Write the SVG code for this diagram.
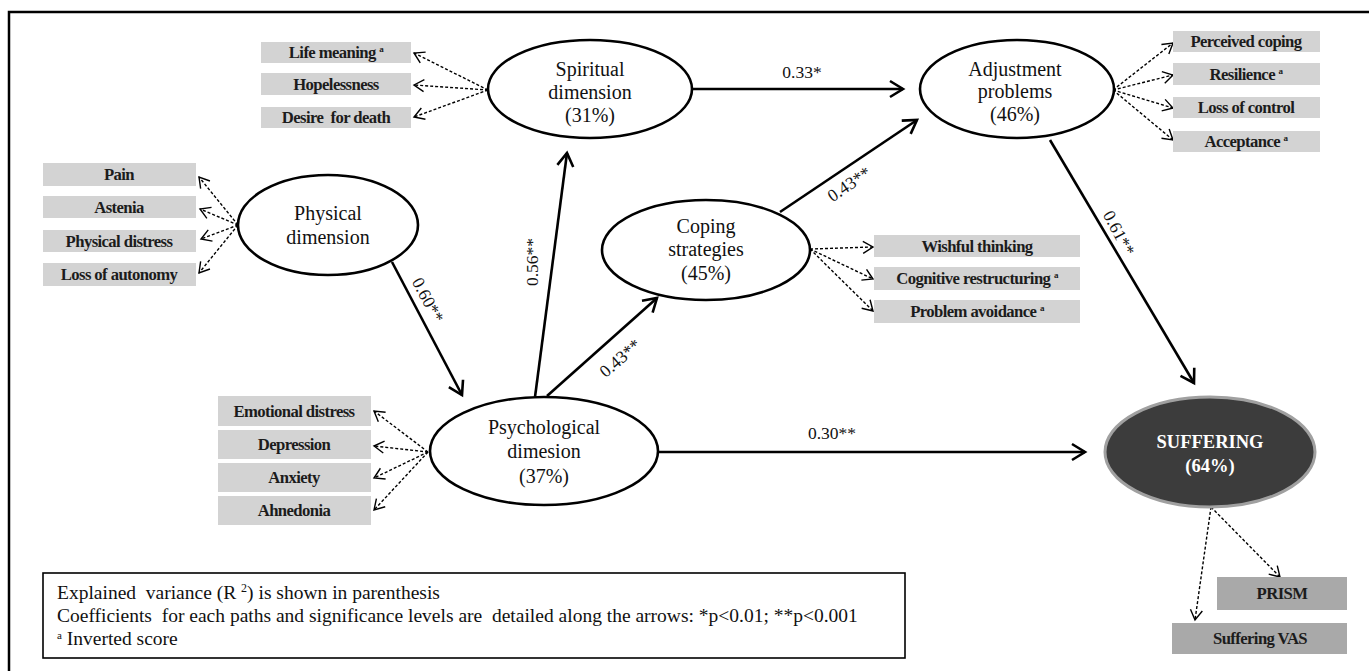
<svg xmlns="http://www.w3.org/2000/svg" width="1369" height="671" viewBox="0 0 1369 671">
<style>
.lat{fill:#fff;stroke:#000;stroke-width:2.6}
.box{fill:#d3d3d3}
.box2{fill:#a9a9a9}
.bt{font-family:"Liberation Serif",serif;font-size:16.7px;font-weight:bold;letter-spacing:-0.6px;fill:#1c1c1c;text-anchor:middle}
.lt{font-family:"Liberation Serif",serif;font-size:20px;fill:#111;text-anchor:middle}
.st{font-family:"Liberation Serif",serif;font-size:18.5px;font-weight:bold;fill:#fff;text-anchor:middle}
.el{font-family:"Liberation Serif",serif;font-size:17.5px;fill:#111;text-anchor:middle}
.leg{font-family:"Liberation Serif",serif;font-size:19.5px;fill:#111;white-space:pre}
.sol{fill:none;stroke:#000;stroke-width:2.6;marker-end:url(#ah)}
.das{fill:none;stroke:#000;stroke-width:1.4;stroke-dasharray:3 2;marker-end:url(#ahd)}
</style>
<defs>
<marker id="ah" markerUnits="userSpaceOnUse" markerWidth="20" markerHeight="20" viewBox="-16 -10 20 20" refX="0" refY="0" orient="auto">
<path d="M-13,-8 L0,0 L-13,8" fill="none" stroke="#000" stroke-width="2.6"/>
</marker>
<marker id="ahd" markerUnits="userSpaceOnUse" markerWidth="16" markerHeight="16" viewBox="-12 -8 16 16" refX="0" refY="0" orient="auto">
<path d="M-10,-6 L0,0 L-10,6" fill="none" stroke="#000" stroke-width="1.4"/>
</marker>
</defs>
<rect width="1369" height="671" fill="#fff"/>
<path d="M9,680 V12 H1380" fill="none" stroke="#000" stroke-width="2.5"/>

<g id="connectors">
<path class="sol" d="M392,262 L462,395"/>
<path class="sol" d="M535,397 L567,153"/>
<path class="sol" d="M547,396 L657,298"/>
<path class="sol" d="M692,89 L903,89"/>
<path class="sol" d="M780,212 L917,120"/>
<path class="sol" d="M1050,140 L1194,383"/>
<path class="sol" d="M658,452 L1085,452"/>
<path class="das" d="M488,90 L414,53"/>
<path class="das" d="M488,90 L414,85"/>
<path class="das" d="M488,90 L414,117"/>
<path class="das" d="M238,225 L199,177"/>
<path class="das" d="M238,225 L200,209"/>
<path class="das" d="M238,225 L201,239"/>
<path class="das" d="M238,225 L199,273"/>
<path class="das" d="M428,452 L374,411"/>
<path class="das" d="M428,452 L374,446"/>
<path class="das" d="M428,452 L374,478"/>
<path class="das" d="M428,452 L374,510"/>
<path class="das" d="M810,249 L873,247"/>
<path class="das" d="M810,249 L873,279"/>
<path class="das" d="M810,249 L873,311"/>
<path class="das" d="M1113,90 L1173,43"/>
<path class="das" d="M1113,90 L1173,75"/>
<path class="das" d="M1113,90 L1173,108"/>
<path class="das" d="M1113,90 L1173,140"/>
<path class="das" d="M1211,507 L1195,620"/>
<path class="das" d="M1211,507 L1280,577"/>
<text class="el" x="802" y="78">0.33*</text>
<text class="el" x="832" y="439">0.30**</text>
<text class="el" transform="translate(428,300) rotate(62)" y="6">0.60**</text>
<text class="el" transform="translate(532,262) rotate(-90)" y="6">0.56**</text>
<text class="el" transform="translate(620,358) rotate(-41)" y="6">0.43**</text>
<text class="el" transform="translate(849,184) rotate(-34)" y="6">0.43**</text>
<text class="el" transform="translate(1119,233) rotate(62)" y="6">0.61**</text>
</g>

<g id="spiritual">
<ellipse class="lat" cx="590" cy="89" rx="102" ry="49"/>
<text class="lt" x="590" y="76">Spiritual</text>
<text class="lt" x="590" y="99">dimension</text>
<text class="lt" x="590" y="122">(31%)</text>
</g>
<g id="physical">
<ellipse class="lat" cx="328" cy="225" rx="90" ry="50"/>
<text class="lt" x="328" y="220">Physical</text>
<text class="lt" x="328" y="244">dimension</text>
</g>
<g id="psychological">
<ellipse class="lat" cx="544" cy="451" rx="114" ry="54"/>
<text class="lt" x="544" y="434">Psychological</text>
<text class="lt" x="544" y="458">dimesion</text>
<text class="lt" x="544" y="483">(37%)</text>
</g>
<g id="coping">
<ellipse class="lat" cx="706" cy="250" rx="104" ry="50"/>
<text class="lt" x="706" y="233">Coping</text>
<text class="lt" x="706" y="256">strategies</text>
<text class="lt" x="706" y="280">(45%)</text>
</g>
<g id="adjustment">
<ellipse class="lat" cx="1017" cy="89" rx="97" ry="49"/>
<text class="lt" x="1015" y="76">Adjustment</text>
<text class="lt" x="1015" y="98">problems</text>
<text class="lt" x="1015" y="121">(46%)</text>
</g>
<g id="suffering">
<ellipse cx="1210" cy="452" rx="105" ry="55" fill="#3c3c3c" stroke="#a0a0a0" stroke-width="3"/>
<text class="st" x="1210" y="448">SUFFERING</text>
<text class="st" x="1210" y="472">(64%)</text>
</g>

<g id="ind-life-meaning"><rect class="box" x="261" y="42" width="150" height="21"/><text class="bt" x="336" y="58">Life meaning <tspan font-size="9" dy="-6">a</tspan></text></g>
<g id="ind-hopelessness"><rect class="box" x="261" y="73" width="150" height="22"/><text class="bt" x="336" y="90">Hopelessness</text></g>
<g id="ind-desire"><rect class="box" x="261" y="107" width="150" height="21"/><text class="bt" x="336" y="123" style="white-space:pre">Desire  for death</text></g>

<g id="ind-pain"><rect class="box" x="43" y="163" width="153" height="23"/><text class="bt" x="119" y="180">Pain</text></g>
<g id="ind-astenia"><rect class="box" x="43" y="196" width="153" height="22"/><text class="bt" x="119" y="213">Astenia</text></g>
<g id="ind-physical-distress"><rect class="box" x="43" y="230" width="153" height="22"/><text class="bt" x="119" y="247">Physical distress</text></g>
<g id="ind-loss-autonomy"><rect class="box" x="43" y="263" width="153" height="23"/><text class="bt" x="119" y="280">Loss of autonomy</text></g>

<g id="ind-emotional"><rect class="box" x="218" y="396" width="153" height="30"/><text class="bt" x="294" y="417">Emotional distress</text></g>
<g id="ind-depression"><rect class="box" x="218" y="430" width="153" height="29"/><text class="bt" x="294" y="450">Depression</text></g>
<g id="ind-anxiety"><rect class="box" x="218" y="463" width="153" height="29"/><text class="bt" x="294" y="483">Anxiety</text></g>
<g id="ind-ahnedonia"><rect class="box" x="218" y="496" width="153" height="29"/><text class="bt" x="294" y="516">Ahnedonia</text></g>

<g id="ind-wishful"><rect class="box" x="874" y="235" width="206" height="22"/><text class="bt" x="977" y="252">Wishful thinking</text></g>
<g id="ind-cognitive"><rect class="box" x="874" y="267" width="206" height="23"/><text class="bt" x="977" y="284">Cognitive restructuring <tspan font-size="9" dy="-6">a</tspan></text></g>
<g id="ind-problem"><rect class="box" x="874" y="300" width="206" height="23"/><text class="bt" x="977" y="317">Problem avoidance <tspan font-size="9" dy="-6">a</tspan></text></g>

<g id="ind-perceived"><rect class="box" x="1173" y="31" width="147" height="21"/><text class="bt" x="1246" y="47">Perceived coping</text></g>
<g id="ind-resilience"><rect class="box" x="1173" y="63" width="147" height="22"/><text class="bt" x="1246" y="80">Resilience <tspan font-size="9" dy="-6">a</tspan></text></g>
<g id="ind-loss-control"><rect class="box" x="1173" y="97" width="147" height="21"/><text class="bt" x="1246" y="113">Loss of control</text></g>
<g id="ind-acceptance"><rect class="box" x="1173" y="131" width="147" height="21"/><text class="bt" x="1246" y="147">Acceptance <tspan font-size="9" dy="-6">a</tspan></text></g>

<g id="ind-prism"><rect class="box2" x="1217" y="577" width="130" height="33"/><text class="bt" x="1282" y="599">PRISM</text></g>
<g id="ind-vas"><rect class="box2" x="1172" y="623" width="175" height="31"/><text class="bt" x="1260" y="644">Suffering VAS</text></g>

<g id="legend">
<rect x="43" y="573" width="862" height="85" fill="#fff" stroke="#000" stroke-width="1.6"/>
<text class="leg" x="57" y="599">Explained  variance (R <tspan font-size="12" dy="-7">2</tspan><tspan dy="7">) is shown in parenthesis</tspan></text>
<text class="leg" x="57" y="622">Coefficients  for each paths and significance levels are  detailed along the arrows: *p&lt;0.01; **p&lt;0.001</text>
<text class="leg" x="57" y="645"><tspan font-size="11" dy="-6">a</tspan><tspan dy="6"> Inverted score</tspan></text>
</g>
</svg>
